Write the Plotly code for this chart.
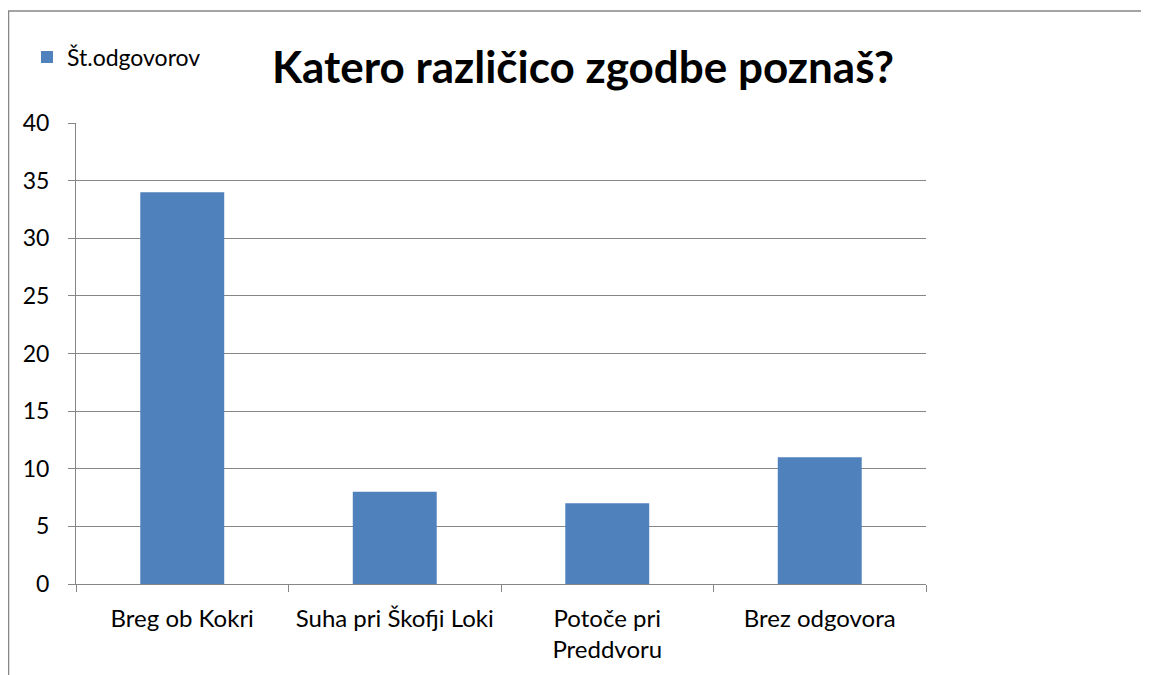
import plotly.graph_objects as go

categories = ["Breg ob Kokri", "Suha pri Škofji Loki", "Potoče pri<br>Preddvoru", "Brez odgovora"]
values = [34, 8, 7, 11]
series_name = "Št.odgovorov"
y_ticks = [0, 5, 10, 15, 20, 25, 30, 35, 40]

# the page adds an 8px body margin, so figure coords = reference coords - 8
OFF = 8
W, H = 1149 - OFF, 675 - OFF
L, R, T, B = 76 - OFF, 926 - OFF, 123 - OFF, 584 - OFF

def px_x(px):
    return (px - OFF - L) / (R - L)

def px_y(py):
    return (B - (py - OFF)) / (B - T)

fig = go.Figure()
fig.add_trace(go.Bar(x=categories, y=values, name=series_name,
                     marker=dict(color="#4f81bd", line=dict(width=0)),
                     showlegend=True))

font_family = "Lato, Open Sans, sans-serif"
fig.update_layout(
    width=W, height=H,
    margin=dict(l=L, r=W - R, t=T, b=H - B, pad=0),
    paper_bgcolor="white", plot_bgcolor="white",
    bargap=0.605,
    font=dict(family=font_family, size=24, color="#000000"),
    title=dict(text="<b>Katero različico zgodbe poznaš?</b>",
               font=dict(family=font_family, size=44, color="#000000"),
               x=(583 - OFF) / W, xanchor="center", y=1 - (68 - OFF) / H, yanchor="middle"),
    showlegend=True,
    legend=dict(x=px_x(27), y=px_y(57), xanchor="left", yanchor="middle",
                font=dict(size=23), bgcolor="rgba(0,0,0,0)",
                itemwidth=30, tracegroupgap=0),
    xaxis=dict(type="category", tickson="boundaries", ticks="outside", ticklen=7,
               tickcolor="#868686", showline=True, linecolor="#868686", linewidth=1,
               showgrid=False, tickfont=dict(size=24), ticklabelstandoff=13),
    yaxis=dict(range=[0, 40], tickvals=y_ticks, ticks="outside", ticklen=7,
               tickcolor="#868686", showline=True, linecolor="#868686", linewidth=1,
               showgrid=True, gridcolor="#868686", gridwidth=1, zeroline=False,
               tickfont=dict(size=23), ticklabelstandoff=14),
    shapes=[
        dict(type="line", xref="paper", yref="paper", x0=px_x(8.5), x1=px_x(8.5),
             y0=px_y(11), y1=px_y(690), line=dict(color="#868686", width=1.5)),
        dict(type="line", xref="paper", yref="paper", x0=px_x(8), x1=px_x(1160),
             y0=px_y(11), y1=px_y(11), line=dict(color="#868686", width=1.5)),
    ],
)

fig.write_html("out.html")
